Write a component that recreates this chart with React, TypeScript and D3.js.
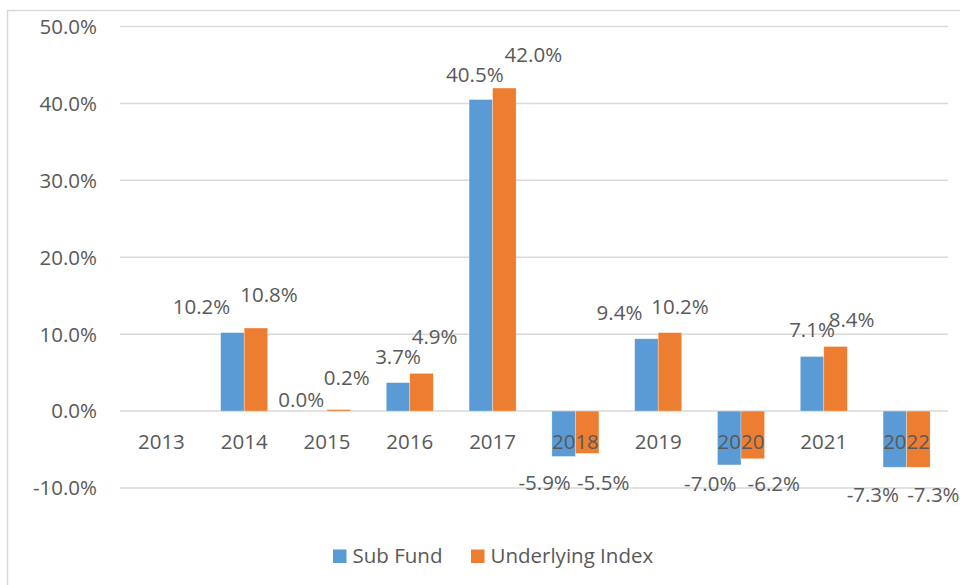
import React from "react";
import * as d3 from "d3";

const years = ["2013", "2014", "2015", "2016", "2017", "2018", "2019", "2020", "2021", "2022"];
const subFund: (number | null)[] = [null, 10.2, 0.0, 3.7, 40.5, -5.9, 9.4, -7.0, 7.1, -7.3];
const underlyingIndex: (number | null)[] = [null, 10.8, 0.2, 4.9, 42.0, -5.5, 10.2, -6.2, 8.4, -7.3];
const yTicks = [-10, 0, 10, 20, 30, 40, 50];
const seriesNames = ["Sub Fund", "Underlying Index"];
const seriesColors = ["#5B9BD5", "#ED7D31"];

// label nudges (label placement as in the reference), per series
const subFundLabelDx = [0, -31, -14, 0, -6, -19, -27, -19, 0, -22];
const subFundLabelDy = [0, -19, -4, -19, -18, 34, -19, 26, -19, 35];
const indexLabelDx = [0, 13, 8, 13, 29, 16, 10, 21, 16, 15];
const indexLabelDy = [0, -26, -25, -29, -26, 37, -19, 32, -19, 35];

const W = 960;
const H = 585;
const FONT = "'Open Sans', 'Noto Sans', sans-serif";
const TEXT = "#595959";
const GRID = "#D9D9D9";
const FS = 20.5;

export default function App() {
  const x0 = d3.scaleBand<string>().domain(years).range([120, 948]).paddingInner(0).paddingOuter(0);
  const x1 = d3
    .scaleBand<string>()
    .domain(seriesNames)
    .range([0, x0.bandwidth()])
    .paddingInner(0)
    .paddingOuter(0.76);
  const y = d3.scaleLinear().domain([-10, 50]).range([488, 26.5]);

  const series = [
    { name: seriesNames[0], values: subFund, dx: subFundLabelDx, dy: subFundLabelDy, color: seriesColors[0] },
    { name: seriesNames[1], values: underlyingIndex, dx: indexLabelDx, dy: indexLabelDy, color: seriesColors[1] },
  ];

  const fmt = (v: number) => v.toFixed(1) + "%";

  return (
    <svg
      width={W}
      height={H}
      style={{ position: "absolute", left: 0, top: 0, background: "#fff" }}
      fontFamily={FONT}
    >
      <rect x={0} y={0} width={W} height={H} fill="#fff" />
      {/* chart border */}
      <rect x={7.5} y={10.5} width={W + 20} height={H + 20} fill="none" stroke={GRID} strokeWidth={1.5} />

      {/* gridlines */}
      {yTicks.map((t) => (
        <line key={"g" + t} x1={120} x2={948} y1={y(t)} y2={y(t)} stroke={GRID} strokeWidth={1.5} />
      ))}

      {/* y tick labels */}
      {yTicks.map((t) => (
        <text
          key={"yt" + t}
          x={97}
          y={y(t)}
          dy="0.36em"
          textAnchor="end"
          fontSize={FS}
          fill={TEXT}
        >
          {fmt(t)}
        </text>
      ))}

      {/* bars */}
      {series.map((s) =>
        years.map((yr, i) => {
          const v = s.values[i];
          if (v === null) return null;
          const h = Math.abs(y(v) - y(0));
          if (h <= 0) return null;
          const bx = (x0(yr) ?? 0) + (x1(s.name) ?? 0);
          const top = y(Math.max(0, v));
          return (
            <rect
              key={s.name + yr}
              x={bx}
              y={top}
              width={x1.bandwidth()}
              height={h}
              fill={s.color}
              stroke="#ffffff"
              strokeOpacity={0.5}
              strokeWidth={0.6}
            />
          );
        })
      )}

      {/* x category labels */}
      {years.map((yr) => (
        <text
          key={"xl" + yr}
          x={(x0(yr) ?? 0) + x0.bandwidth() / 2}
          y={449}
          textAnchor="middle"
          fontSize={FS}
          fill={TEXT}
        >
          {yr}
        </text>
      ))}

      {/* data labels */}
      {series.map((s) =>
        years.map((yr, i) => {
          const v = s.values[i];
          if (v === null) return null;
          const cx = (x0(yr) ?? 0) + (x1(s.name) ?? 0) + x1.bandwidth() / 2;
          return (
            <text
              key={"dl" + s.name + yr}
              x={cx + s.dx[i]}
              y={y(v) + s.dy[i]}
              textAnchor="middle"
              fontSize={FS}
              fill={TEXT}
            >
              {fmt(v)}
            </text>
          );
        })
      )}

      {/* legend */}
      <rect x={333} y={549.5} width={13.5} height={13.5} fill={seriesColors[0]} />
      <text x={352.5} y={563} fontSize={FS} fill={TEXT}>
        {seriesNames[0]}
      </text>
      <rect x={471} y={549.5} width={13.5} height={13.5} fill={seriesColors[1]} />
      <text x={490.5} y={563} fontSize={FS} fill={TEXT}>
        {seriesNames[1]}
      </text>
    </svg>
  );
}
